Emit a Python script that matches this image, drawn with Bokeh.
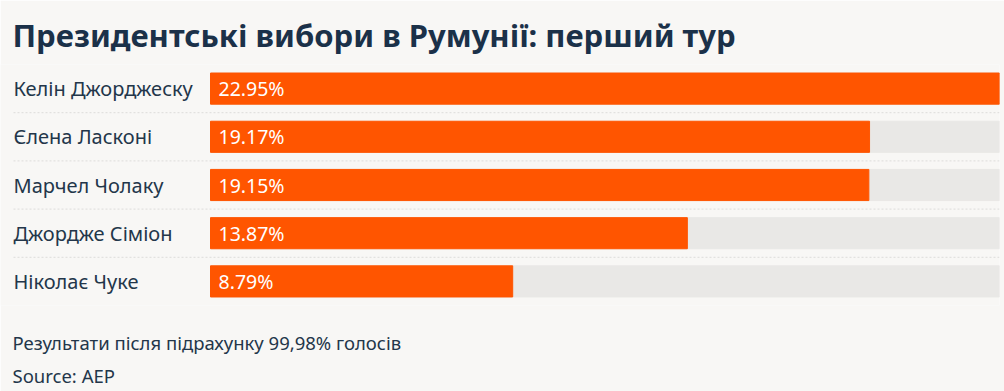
from bokeh.plotting import figure
from bokeh.models import ColumnDataSource, Range1d, Title
from bokeh.core.properties import value
from bokeh.embed import file_html
from bokeh.resources import INLINE

names = ["Келін Джорджеску", "Єлена Ласконі", "Марчел Чолаку", "Джордже Сіміон", "Ніколає Чуке"]
shares = [22.95, 19.17, 19.15, 13.87, 8.79]
labels = ["22.95%", "19.17%", "19.15%", "13.87%", "8.79%"]

TITLE = "Президентські вибори в Румунії: перший тур"
NOTE = "Результати після підрахунку 99,98% голосів"
SOURCE = "Source: AEP"

BG = "#f8f7f5"
DARK = "#1b3149"
TEXT = "#23364a"
ORANGE = "#ff5500"
TRACK = "#e9e8e6"
FONT = "Noto Sans"

W, H = 1004, 391
bar_px = 789.0          # pixel width of the full-scale bar
left_px = 210.0         # space for names to the left of the bars
xmax = max(shares)
xmin = -xmax * left_px / bar_px

n = len(names)
ys = list(range(n))
src = ColumnDataSource(dict(y=ys, name=names, share=shares, label=labels,
                            full=[xmax] * n, zero=[0] * n))

p = figure(width=W, height=H, output_backend="svg", toolbar_location=None,
           x_range=Range1d(xmin, xmax), y_range=Range1d(n - 0.5, -0.5),
           x_axis_type=None, y_axis_type=None,
           min_border_left=0, min_border_right=int(W - left_px - bar_px),
           min_border_top=64, min_border_bottom=86)
p.background_fill_color = BG
p.border_fill_color = BG
p.outline_line_color = None
p.grid.visible = False

p.title.text = TITLE
p.title.text_font = FONT
p.title.text_font_size = "31px"
p.title.text_font_style = "bold"
p.title.text_color = DARK
p.title.offset = 12
p.title.standoff = 18

bh = 31 / 48
p.hbar(y="y", left="zero", right="full", height=bh, source=src, color=TRACK)
p.hbar(y="y", left="zero", right="share", height=bh, source=src, color=ORANGE)

sep_y = [i + 0.5 for i in range(n - 1)]
p.segment(x0=[xmin + 13 / bar_px * xmax] * len(sep_y), x1=[xmax] * len(sep_y),
          y0=sep_y, y1=sep_y, line_color="#dddcda", line_width=1, line_dash="2 2")

p.text(x="zero", y="y", text="name", source=src, x_offset=-197,
       text_font=value(FONT), text_font_size="20px", text_color=TEXT,
       text_baseline="middle", text_align="left")
p.text(x="zero", y="y", text="label", source=src, x_offset=8,
       text_font=value(FONT), text_font_size="19.5px", text_color="white",
       text_baseline="middle", text_align="left")

# empty spacer between the bars and the footnotes
spacer = Title(text=" ", align="left", standoff=3, text_font=FONT,
               text_font_size="10px", text_color=BG)
p.add_layout(spacer, "below")
for t in (NOTE, SOURCE):
    ttl = Title(text=t, align="left", offset=12, standoff=6, text_font=FONT,
                text_font_size="18.5px", text_font_style="normal", text_color=TEXT)
    p.add_layout(ttl, "below")

html = file_html(p, INLINE)
html = html.replace("<body>", '<body style="margin:0;overflow:hidden;background:%s">' % BG, 1)
open("out.html", "w").write(html)
